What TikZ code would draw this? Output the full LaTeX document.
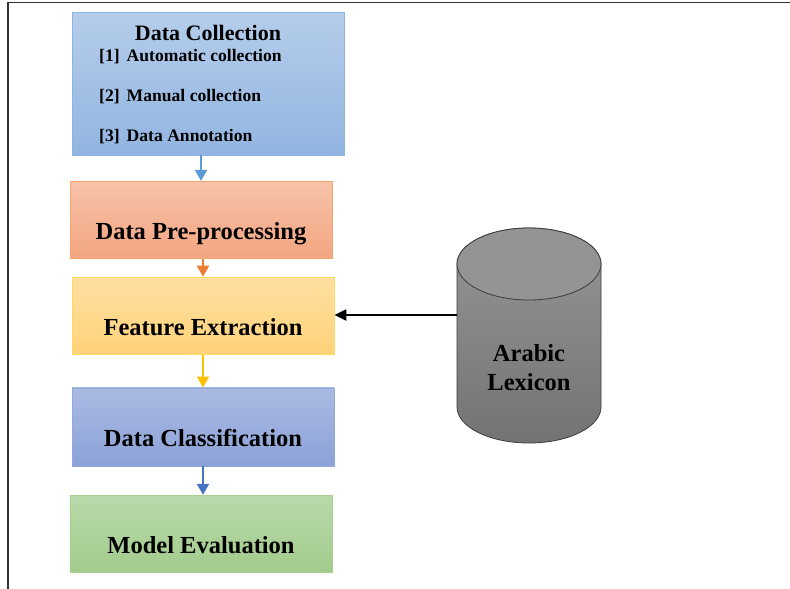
\documentclass[tikz,border=0pt]{standalone}
\usepackage{fontspec}
\setmainfont{Liberation Serif}
\usetikzlibrary{positioning,arrows.meta}
\definecolor{collA}{HTML}{B5CDEA}
\definecolor{collB}{HTML}{92B5E1}
\definecolor{collE}{HTML}{8CB4E2}
\definecolor{collF}{HTML}{5B9BD5}
\definecolor{preA}{HTML}{F6C3A9}
\definecolor{preB}{HTML}{F4A582}
\definecolor{preE}{HTML}{F4A46C}
\definecolor{preF}{HTML}{ED7D31}
\definecolor{featA}{HTML}{FFDFA0}
\definecolor{featB}{HTML}{FFD37A}
\definecolor{featE}{HTML}{FFD966}
\definecolor{featF}{HTML}{FFC000}
\definecolor{clsA}{HTML}{AABAE2}
\definecolor{clsB}{HTML}{8CA2D8}
\definecolor{clsE}{HTML}{8FAADC}
\definecolor{clsF}{HTML}{4472C4}
\definecolor{evalA}{HTML}{B8D9AA}
\definecolor{evalB}{HTML}{A3CC8C}
\definecolor{evalE}{HTML}{A9D18E}
\definecolor{cylA}{HTML}{969696}
\definecolor{cylB}{HTML}{737373}
\definecolor{cylT}{HTML}{949494}
\definecolor{cylE}{HTML}{3C3C3C}

\begin{document}
\begin{tikzpicture}[x=1pt, y=-1pt,
    stage/.style={draw, line width=0.8pt, inner sep=0pt, minimum width=262pt,
      text height=58.5pt, text depth=18.5pt,
      font=\fontsize{24.5}{28}\selectfont\bfseries},
    item/.style={anchor=west, inner sep=0pt, font=\fontsize{17.6}{20}\selectfont\bfseries},
    flow/.style={line width=2.2pt, -{Triangle[width=12pt,length=11pt]}}]
    \useasboundingbox (0,0) rectangle (790,589);
    \draw[line width=1.8pt, black!80] (790,2.5) -- (8,2.5) -- (8,589);

    % stages
    \node [draw=collE, line width=0.8pt, top color=collA, bottom color=collB,
           minimum width=272pt, minimum height=143pt, inner sep=0pt] (coll) at (208,83.5) {};
    \node [below=13.5pt of coll.north, inner sep=0pt, font=\fontsize{22}{26}\selectfont\bfseries] (title) {Data Collection};
    \node [item] (one) at (99,57) {[1]\hspace{7pt}Automatic collection};
    \node [item] (two) at (99,97) {[2]\hspace{7pt}Manual collection};
    \node [item] (three) at (99,137) {[3]\hspace{7pt}Data Annotation};
    \node [stage, draw=preE, top color=preA, bottom color=preB, below=25.5pt of coll, xshift=-7pt] (pre) {Data Pre-processing};
    \node [stage, draw=featE, top color=featA, bottom color=featB, below=18pt of pre, xshift=2pt] (feat) {Feature Extraction};
    \node [stage, draw=clsE, top color=clsA, bottom color=clsB, below=33pt of feat, minimum height=78pt] (cls) {Data Classification};
    \node [stage, draw=evalE, top color=evalA, bottom color=evalB, below=28.5pt of cls, xshift=-2pt] (eval) {Model Evaluation};

    \draw [flow, color=collF] (coll.south -| pre.north) -- (pre.north);
    \draw [flow, color=preF] (feat.north |- pre.south) -- (feat.north);
    \draw [flow, color=featF] (feat.south) -- (cls.north);
    \draw [flow, color=clsF] (cls.south) -- (cls.south |- eval.north);

    % lexicon
    \path [draw=cylE, line width=0.8pt, top color=cylA, bottom color=cylB]
        (457,264) -- (457,407) arc[start angle=180, end angle=360, x radius=72pt, y radius=36pt]
        -- (601,264) arc[start angle=0, end angle=180, x radius=72pt, y radius=36pt] -- cycle;
    \draw [draw=cylE, line width=0.8pt, fill=cylT] (529,264) ellipse [x radius=72pt, y radius=36pt];
    \node [align=center, font=\fontsize{24.5}{29}\selectfont\bfseries] (lex) at (529,368) {Arabic\\Lexicon};
    \coordinate (lexW) at (457,315);
    \draw [line width=2.2pt, -{Triangle[width=11pt,length=12pt]}] (lexW) -- (lexW -| feat.east);
\end{tikzpicture}
\end{document}
